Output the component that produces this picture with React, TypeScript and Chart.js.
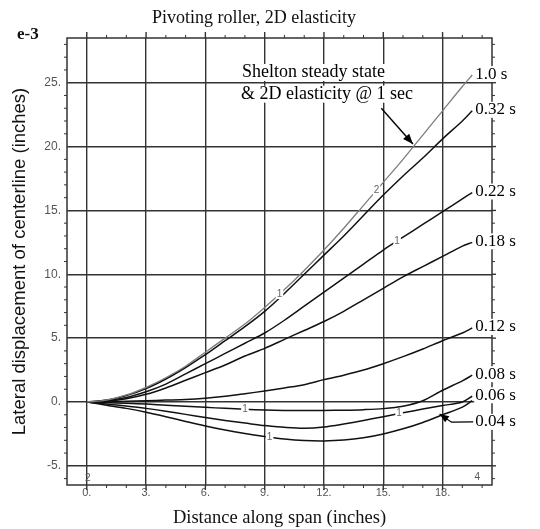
import React, { useEffect, useRef } from "react";
import { Chart, registerables } from "chart.js";

Chart.register(...registerables);

// Distance along span (inches)
const distance = [0, 1, 2, 3, 4, 5, 6, 7, 8, 9, 10, 11, 12, 13, 14, 15, 16, 17, 18, 19, 19.5];

// Lateral displacement of centerline (x 1e-3 inches) at each time
const disp_1_00 = [0, 0.15, 0.55, 1.15, 1.9, 2.8, 3.9, 5.0, 6.1, 7.4, 8.8, 10.3, 11.9, 13.6, 15.4, 17.2, 19.0, 20.9, 22.8, 24.7, 25.6];
const disp_0_32 = [0, 0.15, 0.5, 1.05, 1.8, 2.7, 3.7, 4.8, 5.9, 7.1, 8.5, 10.0, 11.5, 13.0, 14.6, 16.2, 17.7, 19.1, 20.6, 22.0, 22.8];
const disp_0_22 = [0, 0.1, 0.35, 0.8, 1.4, 2.2, 3.0, 3.8, 4.6, 5.4, 6.4, 7.5, 8.6, 9.7, 10.8, 11.9, 12.9, 13.9, 14.9, 15.9, 16.4];
const disp_0_18 = [0, 0.05, 0.25, 0.6, 1.1, 1.7, 2.3, 2.9, 3.6, 4.2, 4.9, 5.6, 6.3, 7.1, 8.0, 8.9, 9.8, 10.6, 11.4, 12.2, 12.5];
const disp_0_12 = [0, 0.0, 0.05, 0.1, 0.15, 0.2, 0.3, 0.45, 0.65, 0.86, 1.1, 1.35, 1.75, 2.1, 2.5, 3.0, 3.55, 4.15, 4.8, 5.4, 5.8];
const disp_0_08 = [0, -0.05, -0.1, -0.15, -0.25, -0.33, -0.42, -0.5, -0.57, -0.63, -0.66, -0.67, -0.66, -0.64, -0.6, -0.52, -0.33, 0.1, 0.92, 1.65, 2.1];
const disp_0_06 = [0, -0.15, -0.32, -0.5, -0.72, -0.97, -1.22, -1.45, -1.65, -1.85, -1.98, -2.05, -1.95, -1.72, -1.45, -1.15, -0.85, -0.55, -0.28, 0.0, 0.45];
const disp_0_04 = [0, -0.25, -0.5, -0.8, -1.15, -1.52, -1.88, -2.2, -2.47, -2.7, -2.9, -3.02, -3.05, -2.98, -2.8, -2.5, -2.1, -1.6, -1.0, -0.4, 0.1];

const seriesLabels = ["1.0 s", "0.32 s", "0.22 s", "0.18 s", "0.12 s", "0.08 s", "0.06 s", "0.04 s"];
const seriesValues = [disp_1_00, disp_0_32, disp_0_22, disp_0_18, disp_0_12, disp_0_08, disp_0_06, disp_0_04];

const xTickValues = [0, 3, 6, 9, 12, 15, 18];
const yTickValues = [-5, 0, 5, 10, 15, 20, 25];

// Inline contour numbers sitting on the curves: [series index, distance, text]
const curveTags: [number, number, string][] = [
  [0, 9.75, "1"],
  [0, 14.66, "2"],
  [2, 15.7, "1"],
  [5, 8.0, "1"],
  [6, 15.8, "1"],
  [7, 9.25, "1"],
];

const SERIF = '"Liberation Serif", "Times New Roman", serif';
const SANS = '"Liberation Sans", Arial, sans-serif';

function valueAt(values: number[], x: number): number {
  for (let i = 0; i < distance.length - 1; i++) {
    const x0 = distance[i], x1 = distance[i + 1];
    if (x >= x0 && x <= x1) {
      const t = (x - x0) / (x1 - x0);
      return values[i] + t * (values[i + 1] - values[i]);
    }
  }
  return values[values.length - 1];
}

function arrowHead(ctx: CanvasRenderingContext2D, fx: number, fy: number, tx: number, ty: number, size: number) {
  const ang = Math.atan2(ty - fy, tx - fx);
  ctx.beginPath();
  ctx.moveTo(tx, ty);
  ctx.lineTo(tx - size * Math.cos(ang - 0.38), ty - size * Math.sin(ang - 0.38));
  ctx.lineTo(tx - size * Math.cos(ang + 0.38), ty - size * Math.sin(ang + 0.38));
  ctx.closePath();
  ctx.fill();
}

function boxedText(ctx: CanvasRenderingContext2D, text: string, x: number, y: number, align: CanvasTextAlign, h: number, color: string) {
  const w = ctx.measureText(text).width;
  const left = align === "center" ? x - w / 2 : x;
  ctx.fillStyle = "#fff";
  ctx.fillRect(left - 1, y - h / 2, w + 2, h);
  ctx.fillStyle = color;
  ctx.textAlign = align;
  ctx.textBaseline = "middle";
  ctx.fillText(text, x, y);
}

const frameAndNotes = {
  id: "frameAndNotes",
  beforeDatasetsDraw(chart: any) {
    const { ctx, chartArea: a, scales } = chart;
    const xs = scales.x, ys = scales.y;
    ctx.save();
    ctx.strokeStyle = "#333";
    const seg = (x1: number, y1: number, x2: number, y2: number) => {
      ctx.beginPath();
      ctx.moveTo(x1, y1);
      ctx.lineTo(x2, y2);
      ctx.stroke();
    };
    ctx.lineWidth = 1.4;
    for (const v of xTickValues) {
      const px = xs.getPixelForValue(v);
      seg(px, a.top - 6, px, a.top);
      seg(px, a.bottom, px, a.bottom + 5);
    }
    for (const v of yTickValues) {
      const py = ys.getPixelForValue(v);
      seg(a.right, py, a.right + 4, py);
    }
    ctx.lineWidth = 1;
    for (let v = Math.ceil(xs.min) + 1; v < xs.max; v++) {
      if (v % 3 === 0) continue;
      const px = xs.getPixelForValue(v);
      seg(px, a.top - 3, px, a.top);
      seg(px, a.bottom, px, a.bottom + 3);
    }
    for (let v = Math.ceil(ys.min); v < ys.max; v++) {
      if (v % 5 === 0) continue;
      const py = ys.getPixelForValue(v);
      seg(a.left - 3, py, a.left, py);
      seg(a.right, py, a.right + 3, py);
    }
    ctx.lineWidth = 1.5;
    ctx.strokeRect(a.left, a.top, a.right - a.left, a.bottom - a.top);
    ctx.restore();
  },
  afterDatasetsDraw(chart: any) {
    const { ctx, scales } = chart;
    const xs = scales.x, ys = scales.y;
    const px = (v: number) => xs.getPixelForValue(v);
    const py = (v: number) => ys.getPixelForValue(v);
    ctx.save();

    // contour numbers on the curves
    ctx.font = `10px ${SANS}`;
    for (const [si, x, t] of curveTags) {
      boxedText(ctx, t, px(x), py(valueAt(seriesValues[si], x)), "center", 10, "#666");
    }

    // time labels at the curve ends
    ctx.font = `17px ${SERIF}`;
    for (let i = 0; i < seriesLabels.length - 1; i++) {
      const vals = seriesValues[i];
      const ex = px(distance[distance.length - 1]);
      const ey = py(vals[vals.length - 1]);
      boxedText(ctx, seriesLabels[i], ex + 3, ey - 1, "left", 16, "#000");
    }

    // 0.04 s label with pointer to its curve
    const last = seriesLabels.length - 1;
    const lx = px(19.55), ly = py(-1.56);
    const elbowX = px(18.45), elbowY = py(-1.58);
    const tipX = px(17.85), tipY = py(valueAt(seriesValues[last], 17.85) + 0.15);
    ctx.strokeStyle = "#000";
    ctx.fillStyle = "#000";
    ctx.lineWidth = 1.2;
    ctx.beginPath();
    ctx.moveTo(lx, ly);
    ctx.lineTo(elbowX, elbowY);
    ctx.lineTo(tipX, tipY);
    ctx.stroke();
    arrowHead(ctx, elbowX, elbowY, tipX, tipY, 10);
    boxedText(ctx, seriesLabels[last], lx + 2, ly, "left", 16, "#000");

    // steady-state note and its arrow
    ctx.font = `18px ${SERIF}`;
    boxedText(ctx, "Shelton steady state", px(7.85), py(25.8), "left", 17, "#000");
    boxedText(ctx, "& 2D elasticity @ 1 sec", px(7.8), py(24.1), "left", 17, "#000");
    const ax0 = px(14.9), ay0 = py(23.0);
    const ax1 = px(16.5), ay1 = py(valueAt(disp_1_00, 16.5) + 0.25);
    ctx.strokeStyle = "#000";
    ctx.fillStyle = "#000";
    ctx.lineWidth = 1.4;
    ctx.beginPath();
    ctx.moveTo(ax0, ay0);
    ctx.lineTo(ax1, ay1);
    ctx.stroke();
    arrowHead(ctx, ax0, ay0, ax1, ay1, 11);

    // small corner marks
    ctx.font = `10px ${SANS}`;
    ctx.fillStyle = "#555";
    ctx.textAlign = "center";
    ctx.textBaseline = "middle";
    ctx.fillText("2", px(0.05), py(-6.0));
    ctx.fillText("4", px(19.75), py(-5.9));

    // heading and exponent
    ctx.fillStyle = "#111";
    ctx.font = `18px ${SERIF}`;
    ctx.textAlign = "center";
    ctx.fillText("Pivoting roller, 2D elasticity", 254, 18);
    ctx.font = `bold 17px ${SERIF}`;
    ctx.textAlign = "left";
    ctx.fillText("e-3", 17, 35);
    ctx.restore();
  },
};

export default function App() {
  const canvasRef = useRef<HTMLCanvasElement | null>(null);

  useEffect(() => {
    const canvas = canvasRef.current;
    if (!canvas) return;
    const datasets = seriesLabels.map((label, i) => ({
      label,
      data: distance.map((d, j) => ({ x: d, y: seriesValues[i][j] })),
      borderColor: i === 0 ? "#7d7d7d" : "#111",
      borderWidth: i === 0 ? 1.3 : 1.5,
      pointRadius: 0,
      tension: 0.3,
      fill: false,
    }));
    const chart = new Chart(canvas, {
      type: "line",
      data: { datasets },
      options: {
        animation: false,
        responsive: false,
        devicePixelRatio: 1,
        layout: { padding: { top: 38, right: 48, left: 0, bottom: 0 } },
        plugins: { legend: { display: false }, tooltip: { enabled: false }, title: { display: false } },
        scales: {
          x: {
            type: "linear",
            min: -1,
            max: 20.5,
            afterFit: (s: any) => { s.height = 44; },
            afterBuildTicks: (s: any) => { s.ticks = xTickValues.map((v) => ({ value: v })); },
            ticks: {
              callback: (v: any) => `${v}.`,
              font: { family: SANS, size: 11 },
              color: "#555",
              padding: 1,
              maxRotation: 0,
            },
            grid: { color: "#333", lineWidth: 1.4, drawTicks: false },
            border: { display: false },
            title: {
              display: true,
              text: "Distance along span (inches)",
              font: { family: SERIF, size: 18.5 },
              color: "#111",
              padding: { top: 0, bottom: 0 },
            },
          },
          y: {
            type: "linear",
            min: -6.5,
            max: 28.5,
            afterFit: (s: any) => { s.width = 67; },
            afterBuildTicks: (s: any) => { s.ticks = yTickValues.map((v) => ({ value: v })); },
            ticks: {
              callback: (v: any) => `${v}.`,
              font: { family: SANS, size: 12 },
              color: "#555",
              padding: 6,
            },
            grid: { color: "#333", lineWidth: 1.4, drawTicks: false },
            border: { display: false },
            title: {
              display: true,
              text: "Lateral displacement of centerline (inches)",
              font: { family: SANS, size: 18.5 },
              color: "#111",
              padding: { top: 9, bottom: 0 },
            },
          },
        },
      },
      plugins: [frameAndNotes],
    } as any);
    return () => chart.destroy();
  }, []);

  return (
    <div style={{ position: "fixed", left: 0, top: 0, width: 540, height: 529, background: "#fff" }}>
      <canvas ref={canvasRef} width={540} height={529} />
    </div>
  );
}
